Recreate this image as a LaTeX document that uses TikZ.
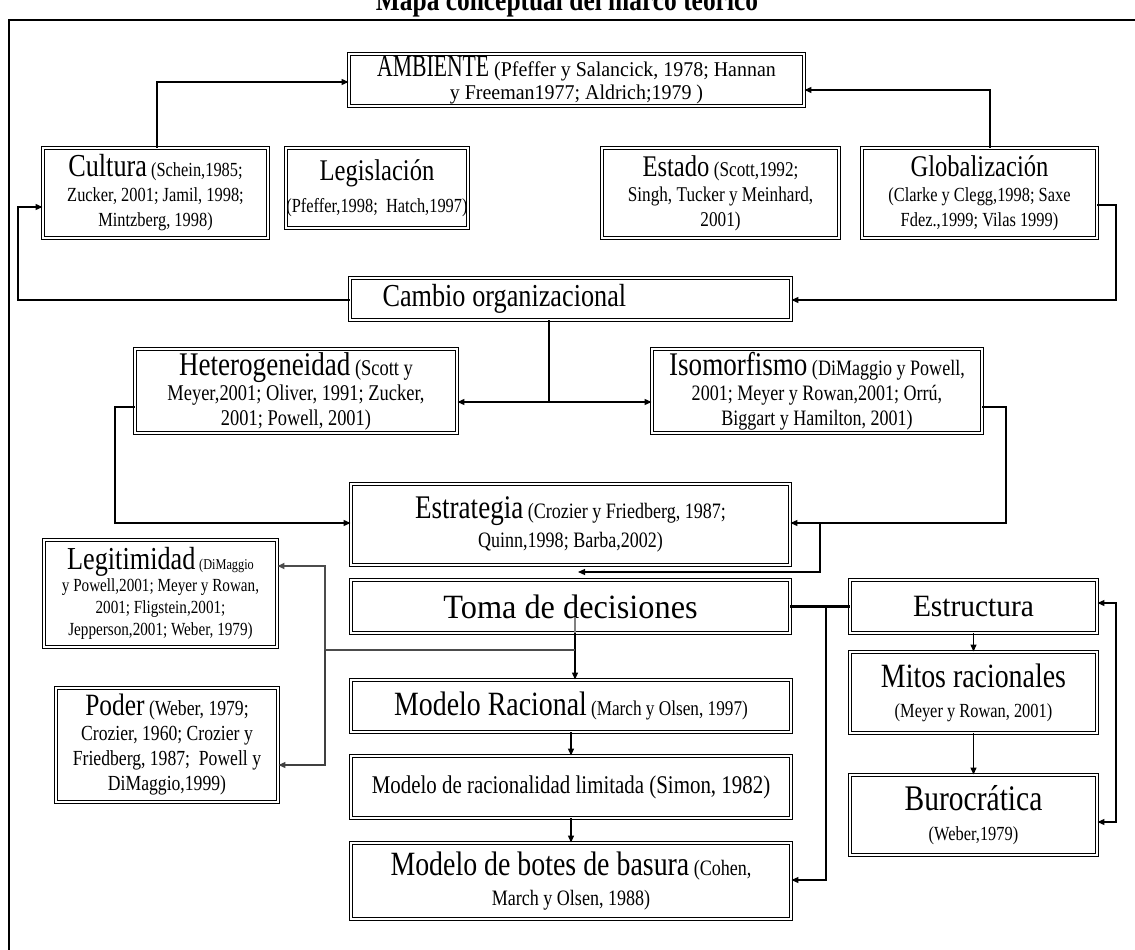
\documentclass[tikz,border=0pt]{standalone}
\usepackage{fontspec}
\setmainfont{Liberation Serif}[FakeStretch=0.82]
\newfontfamily\fA{Liberation Serif}[FakeStretch=0.7]
\newfontfamily\fN{Liberation Serif}[FakeStretch=0.95]
\usetikzlibrary{arrows.meta}
\newcommand\Fs[1]{\fontsize{#1}{#1}\selectfont}
\newcommand\Sf{\fontsize{20}{25}\selectfont}
\begin{document}
\begin{tikzpicture}[x=1pt,y=-1pt,
  box/.style={draw, line width=0.9pt, double distance=1.6pt, align=center, inner sep=0pt, font=\Sf},
  conn/.style={line width=1.2pt},
  arr/.style={conn, -{Triangle[length=7pt,width=6pt]}},
  arrb/.style={conn, {Triangle[length=7pt,width=6pt]}-{Triangle[length=7pt,width=6pt]}},
]
\useasboundingbox (0,0) rectangle (1135,950);
\node[font=\fontsize{31}{31}\selectfont\bfseries, anchor=base] (title) at (567,11) {Mapa conceptual del marco teórico};
\draw[line width=2pt] (9,1000) -- (9,20) -- (1200,20);

\node[box, minimum width=455pt, minimum height=52pt, font=\fN\fontsize{21}{23}\selectfont] (amb) at (576.5,80) {{\fA\Fs{31}AMBIENTE} (Pfeffer y Salancick, 1978; Hannan\\y Freeman1977; Aldrich;1979 )};
\node[box, minimum width=225pt, minimum height=90pt] (cul) at (155.5,193) {{\Fs{32}Cultura} (Schein,1985;\\Zucker, 2001; Jamil, 1998;\\Mintzberg, 1998)};
\node[box, minimum width=182pt, minimum height=80pt] (leg) at (377,188) {{\Fs{30}Legislación}\\[7pt](Pfeffer,1998;\ \ Hatch,1997)};
\node[box, minimum width=237pt, minimum height=90pt, font=\fontsize{21}{25}\selectfont] (est) at (720.5,193) {{\Fs{30}Estado} (Scott,1992;\\Singh, Tucker y Meinhard,\\2001)};
\node[box, minimum width=235pt, minimum height=90pt] (glo) at (979.5,193) {{\Fs{30}Globalización}\\(Clarke y Clegg,1998; Saxe\\Fdez.,1999; Vilas 1999)};
\node[box, minimum width=441pt, minimum height=42pt, text width=376pt, align=left] (cam) at (570.5,299) {\Fs{32}Cambio organizacional};
\node[box, minimum width=322pt, minimum height=84pt, font=\fontsize{22.5}{25}\selectfont] (het) at (296,391) {{\Fs{33}Heterogeneidad} (Scott y\\Meyer,2001; Oliver, 1991; Zucker,\\2001; Powell, 2001)};
\node[box, minimum width=330pt, minimum height=84pt, font=\fontsize{22}{25}\selectfont] (iso) at (817,391) {{\Fs{33}Isomorfismo} (DiMaggio y Powell,\\2001; Meyer y Rowan,2001; Orrú,\\Biggart y Hamilton, 2001)};
\node[box, minimum width=439pt, minimum height=81pt, font=\fontsize{22}{29}\selectfont] (estr) at (570.5,524.5) {{\Fs{33}Estrategia} (Crozier y Friedberg, 1987;\\Quinn,1998; Barba,2002)};
\node[box, minimum width=233pt, minimum height=107pt, font=\fontsize{18.5}{22}\selectfont] (legit) at (160.5,593.5) {{\Fs{32}Legitimidad} {\Fs{15}(DiMaggio}\\y Powell,2001; Meyer y Rowan,\\2001; Fligstein,2001;\\Jepperson,2001; Weber, 1979)};
\node[box, minimum width=439pt, minimum height=53pt] (toma) at (570.5,606.5) {\fN\Fs{34}Toma de decisiones};
\node[box, minimum width=247pt, minimum height=53pt] (estru) at (973.5,606.5) {\fN\Fs{31}Estructura};
\node[box, minimum width=222pt, minimum height=114pt, font=\fontsize{21.5}{25}\selectfont] (poder) at (167,745) {{\Fs{31}Poder} (Weber, 1979;\\Crozier, 1960; Crozier y\\Friedberg, 1987;\ \ Powell y\\DiMaggio,1999)};
\node[box, minimum width=440pt, minimum height=52pt] (mrac) at (571,706) {{\Fs{34}Modelo Racional} {\Fs{21}(March y Olsen, 1997)}};
\node[box, minimum width=247pt, minimum height=81pt, font=\fontsize{20}{30}\selectfont] (mitos) at (973.5,692.5) {{\Fs{34}Mitos racionales}\\(Meyer y Rowan, 2001)};
\node[box, minimum width=440pt, minimum height=62pt] (mrl) at (571,787) {\Fs{25.5}Modelo de racionalidad limitada (Simon, 1982)};
\node[box, minimum width=247pt, minimum height=80pt, font=\fontsize{20}{30}\selectfont] (buro) at (973.5,815) {{\Fs{36}Burocrática}\\(Weber,1979)};
\node[box, minimum width=440pt, minimum height=76pt, font=\fontsize{22}{30}\selectfont] (botes) at (571,881) {{\Fs{34}Modelo de botes de basura} (Cohen,\\March y Olsen, 1988)};

% connectors
\coordinate (k1) at (157,82);
\draw[arr] (cul.north -| k1) -- (k1) -- (amb.west |- k1);
\coordinate (k2) at (990,90);
\draw[arr] (glo.north -| k2) -- (k2) -- (amb.east |- k2);
\coordinate (k3) at (18,300); \coordinate (k3b) at (18,207);
\draw[arr] (cam.west |- k3) -- (k3) -- (k3b) -- (cul.west |- k3b);
\coordinate (k4) at (1116,205); \coordinate (k4b) at (1116,300);
\draw[arr] (glo.east |- k4) -- (k4) -- (k4b) -- (cam.east |- k4b);
\coordinate (k5) at (549,402);
\draw[conn] (cam.south -| k5) -- (k5);
\draw[arrb] (het.east |- k5) -- (iso.west |- k5);
\coordinate (k6) at (115,407); \coordinate (k6b) at (115,523);
\draw[arr] (het.west |- k6) -- (k6) -- (k6b) -- (estr.west |- k6b);
\coordinate (k7) at (1006,407); \coordinate (k7b) at (1006,523);
\draw[arr] (iso.east |- k7) -- (k7) -- (k7b) -- (estr.east |- k7b);
\coordinate (k8) at (820,523); \coordinate (k8b) at (820,572); \coordinate (k8c) at (578,572);
\draw[arr] (k8) -- (k8b) -- (k8c);
\coordinate (k9) at (575,617);
\draw[conn, gray] (k9) -- (toma.south -| k9);
\draw[arr] (toma.south -| k9) -- (mrac.north -| k9);
\coordinate (k10) at (575,650); \coordinate (k10b) at (325,650); \coordinate (k10c) at (325,566); \coordinate (k10d) at (325,765);
\draw[arr, gray!60!black, line width=1.8pt] (k10) -- (k10b) -- (k10c) -- (legit.east |- k10c);
\draw[arr, gray!50!black] (k10b) -- (k10d) -- (poder.east |- k10d);
\draw[line width=3pt] (toma.east) -- (estru.west);
\coordinate (k11) at (826,606.5); \coordinate (k11b) at (826,880);
\draw[arr] (k11) -- (k11b) -- (botes.east |- k11b);
\draw[arr] (estru.south) -- (mitos.north);
\draw[arr] (mitos.south) -- (buro.north);
\coordinate (k14) at (1116,603); \coordinate (k14b) at (1116,822);
\draw[arrb] (estru.east |- k14) -- (k14) -- (k14b) -- (buro.east |- k14b);
\draw[arr] (mrac.south) -- (mrl.north);
\draw[arr] (mrl.south) -- (botes.north);
\end{tikzpicture}
\end{document}
